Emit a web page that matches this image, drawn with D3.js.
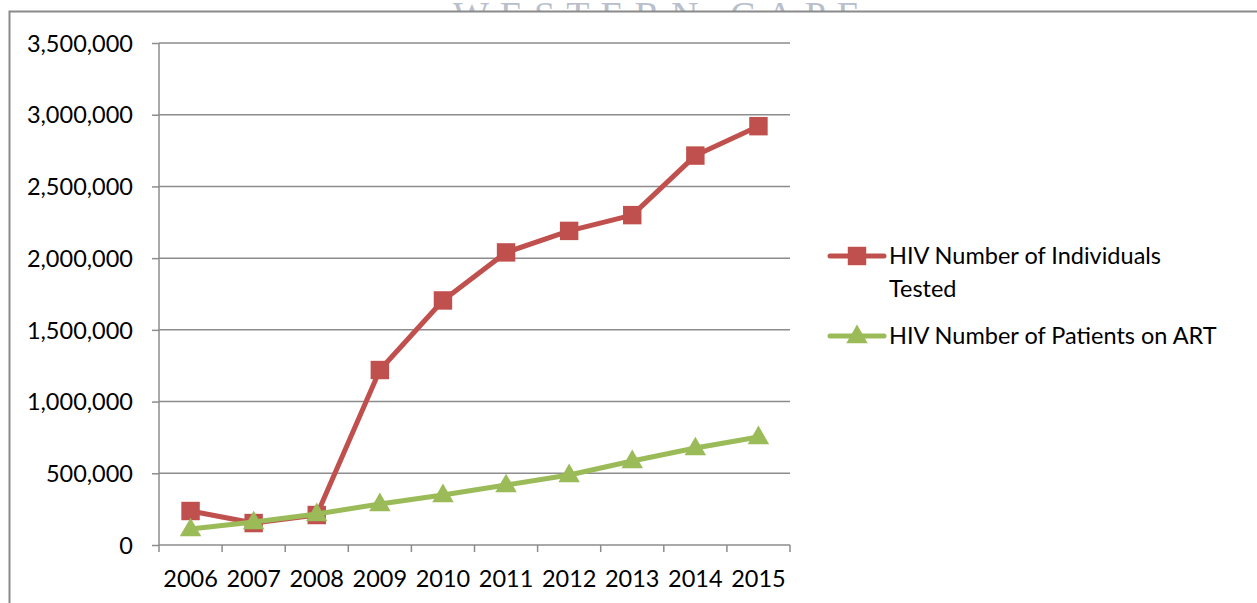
<!DOCTYPE html>
<html>
<head>
<meta charset="utf-8">
<script src="https://cdn.jsdelivr.net/npm/d3@7"></script>
<style>
  body { margin: 0; background: #fff; }
  text { font-family: Lato, "Open Sans", sans-serif; fill: #000; }
</style>
</head>
<body>
<div id="chart"></div>
<script>
const years = ["2006", "2007", "2008", "2009", "2010", "2011", "2012", "2013", "2014", "2015"];
const tested = [237000, 153000, 209000, 1220000, 1705000, 2040000, 2190000, 2300000, 2715000, 2920000];
const onArt = [111000, 160000, 216000, 286000, 349000, 418000, 488000, 586000, 676000, 753000];
const yTicks = [0, 500000, 1000000, 1500000, 2000000, 2500000, 3000000, 3500000];

const series = [
    { name: ["HIV Number of Individuals", "Tested"], values: tested, color: "#C0504D", marker: "square" },
    { name: ["HIV Number of Patients on ART"], values: onArt, color: "#9BBB59", marker: "triangle" }
];

const width = 1257;
const height = 603;
const plotLeft = 159, plotRight = 790, plotTop = 43, plotBottom = 545;
const fontSize = "23.5px";

const svg = d3.select("#chart")
    .append("svg")
    .attr("width", width)
    .attr("height", height);

// faint watermark peeking above the frame
svg.append("text")
    .attr("x", 662)
    .attr("y", 28)
    .attr("text-anchor", "middle")
    .style("font-family", "'Liberation Serif', serif")
    .style("font-size", "38px")
    .style("letter-spacing", "11px")
    .style("fill", "#b9bfcc")
    .text("WESTERN CAPE");

// frame (white area covers watermark bottom)
svg.append("rect")
    .attr("x", 9.5)
    .attr("y", 11.5)
    .attr("width", width)
    .attr("height", height)
    .attr("fill", "#fff")
    .attr("stroke", "#8a8a8a")
    .attr("stroke-width", 2);

const x = d3.scaleBand()
    .domain(years)
    .range([plotLeft, plotRight]);

const y = d3.scaleLinear()
    .domain([0, 3500000])
    .range([plotBottom, plotTop]);

// gridlines
svg.append("g")
    .selectAll("line")
    .data(yTicks.slice(1))
    .enter()
    .append("line")
    .attr("x1", plotLeft)
    .attr("x2", plotRight)
    .attr("y1", d => y(d))
    .attr("y2", d => y(d))
    .attr("stroke", "#8c8c8c")
    .attr("stroke-width", 1.5);

// y axis
const yAxis = svg.append("g")
    .attr("transform", `translate(${plotLeft},0)`)
    .call(d3.axisLeft(y).tickValues(yTicks).tickSize(7).tickPadding(19)
        .tickFormat(d3.format(",")));
yAxis.select(".domain").attr("stroke", "#8c8c8c").attr("stroke-width", 1.5).attr("d", `M0,${plotTop}V${plotBottom}`);
yAxis.selectAll(".tick line").attr("stroke", "#8c8c8c").attr("stroke-width", 1.5);
yAxis.selectAll("text").style("font-size", fontSize).attr("dy", "0.35em");

// x axis
const xAxis = svg.append("g")
    .attr("transform", `translate(0,${plotBottom})`)
    .call(d3.axisBottom(x).tickSize(0).tickPadding(25));
xAxis.select(".domain").attr("stroke", "#8c8c8c").attr("stroke-width", 1.5).attr("d", `M${plotLeft},0H${plotRight}`);
xAxis.selectAll("text").style("font-size", fontSize).attr("dy", "0.71em");
xAxis.append("g")
    .selectAll("line")
    .data(years.concat(["end"]))
    .enter()
    .append("line")
    .attr("x1", (d, i) => i < years.length ? x(d) : plotRight)
    .attr("x2", (d, i) => i < years.length ? x(d) : plotRight)
    .attr("y1", 0)
    .attr("y2", 7)
    .attr("stroke", "#8c8c8c")
    .attr("stroke-width", 1.5);

const cx = d => x(d) + x.bandwidth() / 2;
const line = d3.line()
    .x((d, i) => cx(years[i]))
    .y(d => y(d));

const sq = d3.symbol().type(d3.symbolSquare).size(340);
const tri = d3.symbol().type(d3.symbolTriangle).size(200);

series.forEach(s => {
    svg.append("path")
        .datum(s.values)
        .attr("d", line)
        .attr("fill", "none")
        .attr("stroke", s.color)
        .attr("stroke-width", 5)
        .attr("stroke-linejoin", "round");

    svg.append("g")
        .selectAll("path")
        .data(s.values)
        .enter()
        .append("path")
        .attr("d", s.marker === "square" ? sq : tri)
        .attr("transform", (d, i) => `translate(${cx(years[i])},${y(d) + (s.marker === "triangle" ? 1 : 0)})`)
        .attr("fill", s.color);
});

// legend
const legendY = [256, 336];
series.forEach((s, i) => {
    const g = svg.append("g").attr("transform", `translate(830,${legendY[i]})`);
    g.append("line")
        .attr("x1", 0).attr("x2", 54)
        .attr("stroke", s.color)
        .attr("stroke-width", 5)
        .attr("stroke-linecap", "round");
    g.append("path")
        .attr("d", s.marker === "square" ? sq : tri)
        .attr("transform", `translate(27,${s.marker === "triangle" ? 1 : 0})`)
        .attr("fill", s.color);
    s.name.forEach((t, j) => {
        g.append("text")
            .attr("x", 59)
            .attr("y", j * 33)
            .attr("dy", "0.35em")
            .style("font-size", fontSize)
            .text(t);
    });
});
</script>
</body>
</html>
